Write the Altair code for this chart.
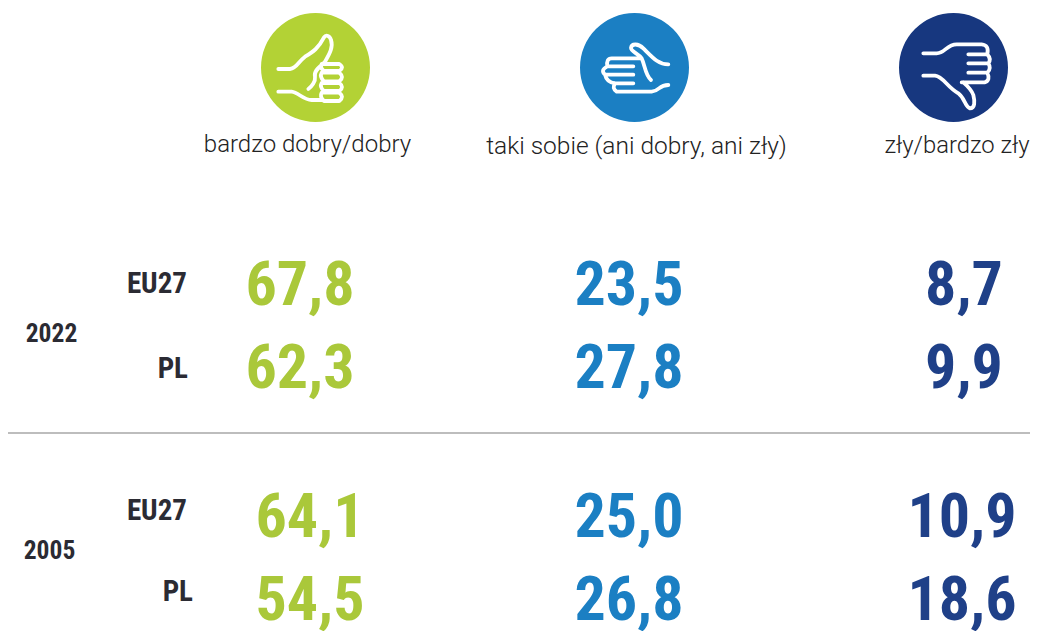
import re
import altair as alt
import pandas as pd

# --- chart values ---
regions = ["EU27", "PL", "EU27", "PL"]
years = ["2022", "2005"]
heads = ["bardzo dobry/dobry", "taki sobie (ani dobry, ani zły)", "zły/bardzo zły"]
good = ["67,8", "62,3", "64,1", "54,5"]
mid = ["23,5", "27,8", "25,0", "26,8"]
bad = ["8,7", "9,9", "10,9", "18,6"]

# --- layout (page pixels) and styles ---
X0, Y0, X1, Y1 = 8, 8, 1030, 631
circle_fill = ["#b3d235", "#1b7fc3", "#17377f"]
value_fill = ["#aac83a", "#1b7fc3", "#1f4088"]
val_x = [[300, 300, 310, 310], [629, 629, 629, 629], [964, 964, 962, 962]]
val_y = [286, 369, 518, 601]
reg_x = [187, 188, 187, 193]
reg_y = [284, 369, 511, 592]
year_x, year_y = [51.5, 49.5], [334, 551]
head_x, head_y = [307.5, 636.5, 957], [144.5, 147, 146]
head_size = [24, 24.5, 23.8]
icon_x, icon_y = [315.5, 634.5, 953.5], [67.5, 67.5, 67.5]
R = 54.5


def finger(y0, y1):
    m = (y0 + y1) / 2
    return f"M215 {y0} L268 {y0} Q284 {m} 268 {y1} L222 {y1} Q208 {m} 215 {y0} Z "


icon_up = (
    "M85 192 L120 192 C140 190 145 170 165 155 C190 140 205 130 222 97 "
    "C228 88 240 92 243 105 C250 125 240 145 225 170 "
    "C215 182 190 195 195 215 C197 230 185 245 175 252 "
    "M85 260 L125 260 C145 262 160 285 185 285 L212 285 "
    + finger(177, 198) + finger(203, 229) + finger(234, 258) + finger(263, 288)
)
icon_mid = (
    "M295 178 C265 178 250 160 220 130 C205 115 185 115 183 128 "
    "C182 140 205 145 215 160 C225 180 225 210 243 225 "
    "M215 160 L125 160 Q108 160 112 184 L190 184 "
    "M112 184 Q90 195 105 209 L190 209 "
    "M105 209 Q110 232 135 235 L190 235 "
    "M135 235 Q125 250 140 260 L245 260 C270 258 265 240 295 240"
)
icon_down = (
    "M100 145 L140 145 C165 145 170 118 200 118 L275 118 Q298 120 292 148 L235 148 "
    "M292 148 Q305 162 295 175 L235 175 "
    "M295 175 Q305 190 292 203 L235 203 "
    "M292 203 Q302 225 285 232 L215 232 "
    "M100 212 L135 212 C160 215 170 245 205 265 C225 280 225 305 240 310 "
    "C255 310 255 290 250 270 C245 255 235 245 220 232"
)


def glyph(path, cx, cy):
    """Turn a drawing in 3x crop pixels into a unit symbol centred on the disc."""
    nums = iter(range(10**6))

    def conv(m):
        v = float(m.group(0))
        c = cx if next(nums) % 2 == 0 else cy
        return f"{(v - c) / (3 * R):.4f}"

    return re.sub(r"-?\d+\.?\d*", conv, path)


icon_paths = [glyph(icon_up, 196.5, 187.5), glyph(icon_mid, 193.5, 187.5), glyph(icon_down, 190.5, 187.5)]

x = alt.X("x:Q", scale=alt.Scale(domain=[X0, X1], range=[0, X1 - X0], padding=0, nice=False), axis=None)
y = alt.Y("y:Q", scale=alt.Scale(domain=[Y0, Y1], range=[0, Y1 - Y0], padding=0, nice=False), axis=None)
FONT = "Roboto Condensed"

vals = pd.DataFrame({
    "x": sum(val_x, []),
    "y": val_y * 3,
    "t": good + mid + bad,
    "c": [c for c in value_fill for _ in range(4)],
})
big = alt.Chart(vals).mark_text(font=FONT, fontSize=62, fontWeight="bold", baseline="middle").encode(
    x=x, y=y, text="t:N", color=alt.Color("c:N", scale=None))

reg = alt.Chart(pd.DataFrame({"x": reg_x, "y": reg_y, "t": regions})).mark_text(
    font=FONT, fontSize=29, fontWeight="bold", align="right", baseline="middle", color="#2b2b33"
).encode(x=x, y=y, text="t:N")

yr = alt.Chart(pd.DataFrame({"x": year_x, "y": year_y, "t": years})).mark_text(
    font=FONT, fontSize=25.5, fontWeight="bold", baseline="middle", color="#2b2b33"
).encode(x=x, y=y, text="t:N")

head = alt.Chart(pd.DataFrame({"x": head_x, "y": head_y, "t": heads, "s": head_size})).mark_text(
    font="Roboto", fontWeight=300, baseline="middle", color="#222222"
).encode(x=x, y=y, text="t:N", size=alt.Size("s:Q", scale=None))

rule = alt.Chart(pd.DataFrame({"x": [X0], "x2": [X1], "y": [433]})).mark_rule(
    color="#bdbdbd", strokeWidth=2
).encode(x=x, x2="x2:Q", y=y)

circles = alt.Chart(pd.DataFrame({"x": icon_x, "y": icon_y, "c": circle_fill})).mark_point(
    filled=True, opacity=1, size=(2 * R) ** 2, shape="circle"
).encode(x=x, y=y, color=alt.Color("c:N", scale=None))

glyphs = alt.layer(*[
    alt.Chart(pd.DataFrame({"x": [ix], "y": [iy]})).mark_point(
        filled=False, opacity=1, size=(2 * R) ** 2, shape=p, stroke="white",
        strokeWidth=3.8, strokeCap="round", strokeJoin="round"
    ).encode(x=x, y=y)
    for ix, iy, p in zip(icon_x, icon_y, icon_paths)
])

chart = (circles + glyphs + rule + head + big + reg + yr).properties(
    width=X1 - X0, height=Y1 - Y0, padding=0, background="white",
    autosize=alt.AutoSizeParams(type="none")
).configure_view(stroke=None)
chart.save("out.html", embed_options={"renderer": "svg", "actions": False})
